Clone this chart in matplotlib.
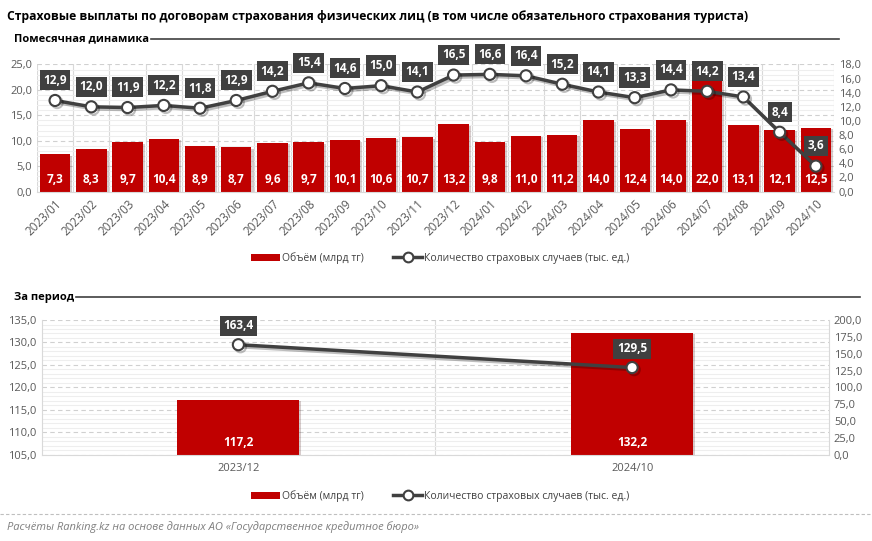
import matplotlib
matplotlib.use('Agg')
import matplotlib.pyplot as plt
import matplotlib.patheffects as pe
from matplotlib.patches import Patch
from matplotlib.lines import Line2D
from matplotlib.ticker import FuncFormatter, MultipleLocator

plt.rcParams['font.family'] = ['Open Sans', 'DejaVu Sans']

# monthly data
months = ['2023/01', '2023/02', '2023/03', '2023/04', '2023/05', '2023/06', '2023/07',
          '2023/08', '2023/09', '2023/10', '2023/11', '2023/12', '2024/01', '2024/02',
          '2024/03', '2024/04', '2024/05', '2024/06', '2024/07', '2024/08', '2024/09',
          '2024/10']
volume = [7.3, 8.3, 9.7, 10.4, 8.9, 8.7, 9.6, 9.7, 10.1, 10.6, 10.7, 13.2, 9.8, 11.0,
          11.2, 14.0, 12.4, 14.0, 22.0, 13.1, 12.1, 12.5]
cases = [12.9, 12.0, 11.9, 12.2, 11.8, 12.9, 14.2, 15.4, 14.6, 15.0, 14.1, 16.5, 16.6,
         16.4, 15.2, 14.1, 13.3, 14.4, 14.2, 13.4, 8.4, 3.6]

# period totals
periods = ['2023/12', '2024/10']
period_volume = [117.2, 132.2]
period_cases = [163.4, 129.5]

RED = '#c00000'
DARK = '#404040'
TICK = '#595959'

fmt = FuncFormatter(lambda v, p: ('%.1f' % v).replace('.', ','))
shadow = [pe.SimpleLineShadow(offset=(1.5, -1.5), alpha=0.25), pe.Normal()]


def style_axes(ax, ax2, step, minor):
    ax.yaxis.set_major_locator(MultipleLocator(step))
    ax.yaxis.set_minor_locator(MultipleLocator(minor))
    ax.yaxis.set_major_formatter(fmt)
    ax2.yaxis.set_major_formatter(fmt)
    ax.grid(axis='y', which='major', color='#d0d0d0', linestyle=(0, (4, 3)), lw=0.8)
    ax.grid(axis='y', which='minor', color='#eeeeee', linestyle='-', lw=0.8)
    ax.set_axisbelow(True)
    for a in (ax, ax2):
        a.tick_params(axis='both', which='both', length=0, colors=TICK, labelsize=8)
        for s in a.spines.values():
            s.set_visible(False)
    ax.tick_params(axis='x', labelsize=8.5)
    ax.spines['bottom'].set_visible(True)
    ax.spines['bottom'].set_color('#d9d9d9')


def box_label(ax, x, y, txt, dy):
    ax.annotate(txt, (x, y), xytext=(0, dy), textcoords='offset points',
                ha='center', va='center', color='white', fontsize=8.5,
                fontweight='bold', zorder=6,
                bbox=dict(boxstyle='square,pad=0.3', fc=DARK, ec='none'))


def legend(y):
    handles = [Patch(fc=RED, ec='none'),
               Line2D([], [], color=DARK, lw=2.5, marker='o', ms=7,
                      mfc='white', mec=DARK, mew=1.5)]
    fig.legend(handles, ['Объём (млрд тг)', 'Количество страховых случаев (тыс. ед.)'],
               loc='center', bbox_to_anchor=(0.505, y), ncol=2, frameon=False,
               fontsize=7.5, labelcolor=DARK, handlelength=2.8, columnspacing=2.8,
               handletextpad=0.2)


def section(y, txt, x_end):
    t = fig.text(0.016, y, txt, fontsize=8, fontweight='bold', va='center')
    fig.canvas.draw()
    bb = t.get_window_extent()
    x0 = bb.x1 / fig.bbox.width + 0.002
    fig.add_artist(Line2D([x0, x_end], [y, y], color=DARK, lw=1.2))


fig = plt.figure(figsize=(8.72, 5.41), dpi=100)

fig.text(0.008, 0.97, 'Страховые выплаты по договорам страхования физических лиц '
         '(в том числе обязательного страхования туриста)',
         fontsize=8.7, fontweight='bold', va='center')

# ---------- monthly ----------
ax = fig.add_axes([0.0424, 0.646, 0.914, 0.2348])
ax2 = ax.twinx()
x = range(len(months))
bars = ax.bar(x, volume, width=0.84, color=RED, zorder=2)
for b in bars:
    b.set_path_effects([pe.SimplePatchShadow(offset=(1.5, -1), alpha=0.2), pe.Normal()])
for i, v in enumerate(volume):
    ax.annotate(('%.1f' % v).replace('.', ','), (i, 0), xytext=(0, 9),
                textcoords='offset points', ha='center', va='center',
                color='white', fontsize=8.5, fontweight='bold', zorder=4)
for i in range(len(months) + 1):
    ax.axvline(i - 0.5, color='#d9d9d9', lw=0.8, zorder=0)
ax.set_xlim(-0.5, len(months) - 0.5)
ax.set_ylim(0, 25)
ax2.set_ylim(0, 18)
ax2.yaxis.set_major_locator(MultipleLocator(2))
style_axes(ax, ax2, 5, 1)
ax.set_xticks(list(x))
ax.set_xticklabels(months, rotation=45, ha='right', rotation_mode='anchor')
ax.tick_params(axis='x', pad=4)
ax2.plot(x, cases, color=DARK, lw=2.5, marker='o', ms=8, mfc='white', mec=DARK,
         mew=1.5, zorder=5, path_effects=shadow)
for i, v in enumerate(cases):
    box_label(ax2, i, v, ('%.1f' % v).replace('.', ','), 14.5)

legend(0.523)
section(0.928, 'Помесячная динамика', 0.962)

# ---------- period ----------
bx = fig.add_axes([0.0476, 0.159, 0.9031, 0.2495])
bx2 = bx.twinx()
px = range(len(periods))
pbars = bx.bar(px, period_volume, width=0.31, color=RED, zorder=2)
for b in pbars:
    b.set_path_effects([pe.SimplePatchShadow(offset=(1.5, -1), alpha=0.2), pe.Normal()])
for i, v in enumerate(period_volume):
    bx.annotate(('%.1f' % v).replace('.', ','), (i, 105), xytext=(0, 9),
                textcoords='offset points', ha='center', va='center',
                color='white', fontsize=8.5, fontweight='bold', zorder=4)
bx.axvline(0.5, color='#d9d9d9', lw=0.8, zorder=0)
bx.set_xlim(-0.5, len(periods) - 0.5)
bx.set_ylim(105, 135)
bx2.set_ylim(0, 200)
bx2.yaxis.set_major_locator(MultipleLocator(25))
style_axes(bx, bx2, 5, 1)
for s in ('left', 'right'):
    bx.spines[s].set_visible(True)
    bx.spines[s].set_color('#d9d9d9')
bx.set_xticks(list(px))
bx.set_xticklabels(periods)
bx.tick_params(axis='x', pad=6, labelsize=8)
bx2.plot(px, period_cases, color=DARK, lw=2.5, marker='o', ms=8, mfc='white', mec=DARK,
         mew=1.5, zorder=5, path_effects=shadow)
for i, v in enumerate(period_cases):
    box_label(bx2, i, v, ('%.1f' % v).replace('.', ','), 13.5)

legend(0.083)
section(0.451, 'За период', 0.986)

fig.add_artist(Line2D([0, 1], [0.05, 0.05], color='#bfbfbf', lw=0.8, linestyle=(0, (3, 2))))
fig.text(0.008, 0.026, 'Расчёты Ranking.kz на основе данных АО «Государственное кредитное бюро»',
         fontsize=8, style='italic', color='#7f7f7f', va='center')

plt.savefig('out.png', dpi=100)
